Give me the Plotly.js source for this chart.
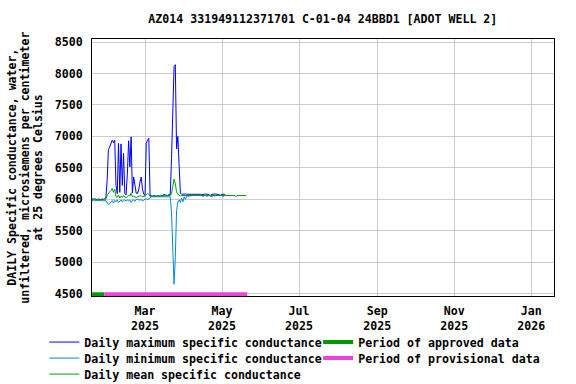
<!DOCTYPE html>
<html>
<head>
<meta charset="utf-8">
<script src="https://cdn.plot.ly/plotly-3.0.1.min.js"></script>
<style>
  html, body { margin: 0; padding: 0; background: #fff; }
  #graph { width: 576px; height: 384px; }
</style>
</head>
<body>
<div id="graph"></div>
<script>
// daily values, first day 2025-01-18
var startDay = '2025-01-18';

var maxSc = [
  6005,6000,6010,6000,5995,6005,6000,5995,6005,6000,6010,6020,
  6300,6790,6830,6890,6940,6900,6940,6220,6090,6890,6110,6880,
  6220,6730,6090,6070,6400,6930,6515,6994,6100,6355,6250,6100,
  6090,6150,6275,6355,6160,6080,6060,6890,6940,6970,6060,6050,
  6050,6060,6050,6050,6060,6050,6055,6060,6050,6080,6070,6070,
  6060,6075,6070,6650,7530,8110,8140,6800,7000,6570,6100,6080,
  6085,6080,6085,6080,6080,6085,6080,6080,6090,6080,6080,6085,
  6080,6080,6080,6075,6080,6080,6085,6080,6080,6065,6065,6080,
  6085,6080,6085,6080,6075,6065,6065,6080,6085,6080,6060,6060,
  6060,6060,6060,6060,6060,6060,null,6060,6060,6060,6060,6060,
  6060,6060,6060
];

var minSc = [
  5980,5985,5975,5980,5985,5975,5980,5985,5975,5980,5985,5980,
  5940,5925,5930,5960,5980,5940,5985,5960,5990,5950,5975,5990,
  5960,5985,5990,5970,5990,5975,5990,5950,5985,5990,5970,5995,
  6000,5990,5985,6000,5970,5990,6000,6010,5990,6010,6030,6040,
  6040,6045,6040,6040,6040,6045,6040,6040,6045,6040,6050,6050,
  6050,6050,6040,5795,5183,4650,5076,5822,5955,5990,5950,6020,
  5960,6040,6000,6050,6050,6055,6060,6055,6060,6060,6055,6060,
  6060,6060,6055,6060,6045,6060,6060,6045,6060,6060,6045,6045,
  6060,6045,6060,6060,6060,6060,6060,6060,6045,6060,6060,6060,
  6060,6060,6060,6060,6060,6060,6045,6060,6060,6060,6060,6060,
  6060,6060,6060
];

var meanSc = [
  5992,5995,6005,5995,5990,5995,5990,5990,5995,5995,6000,6005,
  6060,6100,6120,6140,6170,6110,6160,6040,6030,6070,6020,6050,
  6030,6060,6030,6020,6040,6070,6050,6100,6040,6050,6040,6030,
  6040,6050,6060,6060,6040,6040,6050,6070,6090,6080,6045,6050,
  6050,6050,6050,6050,6050,6050,6050,6050,6050,6055,6060,6060,
  6060,6060,6060,6090,6190,6320,6250,6120,6080,6060,6055,6060,
  6060,6060,6060,6060,6060,6060,6060,6060,6060,6060,6060,6060,
  6060,6060,6060,6060,6060,6060,6060,6060,6060,6060,6060,6060,
  6060,6060,6060,6060,6060,6060,6060,6060,6060,6060,6060,6060,
  6060,6060,6060,6060,6060,6060,null,6060,6060,6060,6060,6060,
  6060,6060,6060
];

var approvedX = ['2025-01-18', '2025-01-27 18:00'];
var approvedY = [4490, 4490];
var provisionalX = ['2025-01-27 18:00', '2025-05-21'];
var provisionalY = [4490, 4490];

var tickDates = ['2025-03-01','2025-05-01','2025-07-01','2025-09-01','2025-11-01','2026-01-01'];
var tickLabels = ['Mar<br>2025','May<br>2025','Jul<br>2025','Sep<br>2025','Nov<br>2025','Jan<br>2026'];

var dates = [];
var d0 = new Date(startDay + 'T00:00:00Z');
for (var i = 0; i < maxSc.length; i++) {
  var d = new Date(d0.getTime() + i * 86400000);
  dates.push(d.toISOString().slice(0, 10));
}

var fnt = {family: 'DejaVu Sans Mono, monospace', size: 11.6, color: '#000', weight: 'bold'};

// plot area in pixels
var L = 91.7, R = 554, T = 39.3, B = 296;
function px(x) { return (x - L) / (R - L); }
function py(y) { return (B - y) / (B - T); }

var data = [
  {x: dates, y: maxSc, mode: 'lines', name: 'Daily maximum specific conductance',
   line: {color: '#0000ff', width: 1}, legend: 'legend'},
  {x: dates, y: minSc, mode: 'lines', name: 'Daily minimum specific conductance',
   line: {color: '#0088dd', width: 1}, legend: 'legend2'},
  {x: dates, y: meanSc, mode: 'lines', name: 'Daily mean specific conductance',
   line: {color: '#00a000', width: 1}, legend: 'legend3'},
  {x: approvedX, y: approvedY, mode: 'lines', name: 'Period of approved data',
   line: {color: '#009900', width: 4}, legend: 'legend4'},
  {x: provisionalX, y: provisionalY, mode: 'lines', name: 'Period of provisional data',
   line: {color: '#ee44dd', width: 4}, legend: 'legend5'}
];

// one legend per entry so each row sits where the original has it
function leg(x, y) {
  return {x: px(x), y: py(y), xref: 'paper', yref: 'paper', xanchor: 'left', yanchor: 'middle',
          bgcolor: 'rgba(0,0,0,0)', borderwidth: 0, font: fnt, itemwidth: 30};
}

var ytitle = ['DAILY Specific conductance, water,',
              'unfiltered, microsiemens per centimeter',
              'at 25 degrees Celsius'];
var ytitleX = [12, 25, 38];
var annotations = [];
for (var k = 0; k < ytitle.length; k++) {
  annotations.push({text: ytitle[k], textangle: -90, showarrow: false,
    xref: 'paper', yref: 'paper', x: px(ytitleX[k]), y: py(167.6),
    xanchor: 'center', yanchor: 'middle', font: fnt});
}

var layout = {
  width: 576, height: 384,
  margin: {l: L, r: 576 - R, t: T, b: 384 - B, autoexpand: false},
  paper_bgcolor: '#fff', plot_bgcolor: '#fff',
  showlegend: true,
  title: {text: 'AZ014 331949112371701 C-01-04 24BBD1 [ADOT WELL 2]', font: fnt,
          x: (L + R) / 2 / 576, xanchor: 'center', y: 1 - 19 / 384, yanchor: 'middle'},
  xaxis: {type: 'date', range: ['2025-01-18', '2026-01-19'],
          tickvals: tickDates, ticktext: tickLabels, ticks: '', ticklabelstandoff: 4,
          showgrid: true, gridcolor: '#cccccc', gridwidth: 1, zeroline: false,
          showline: true, linecolor: '#000', linewidth: 1, mirror: true,
          tickfont: fnt},
  yaxis: {range: [4463, 8548], tickvals: [4500,5000,5500,6000,6500,7000,7500,8000,8500],
          ticks: '', ticklabelstandoff: 6,
          showgrid: true, gridcolor: '#cccccc', gridwidth: 1, zeroline: false,
          showline: true, linecolor: '#000', linewidth: 1, mirror: true,
          tickfont: fnt},
  legend: leg(44, 342),
  legend2: leg(44, 358),
  legend3: leg(44, 374),
  legend4: leg(318, 342),
  legend5: leg(318, 358),
  annotations: annotations
};

Plotly.newPlot('graph', data, layout, {displayModeBar: false, staticPlot: true});
</script>
</body>
</html>
